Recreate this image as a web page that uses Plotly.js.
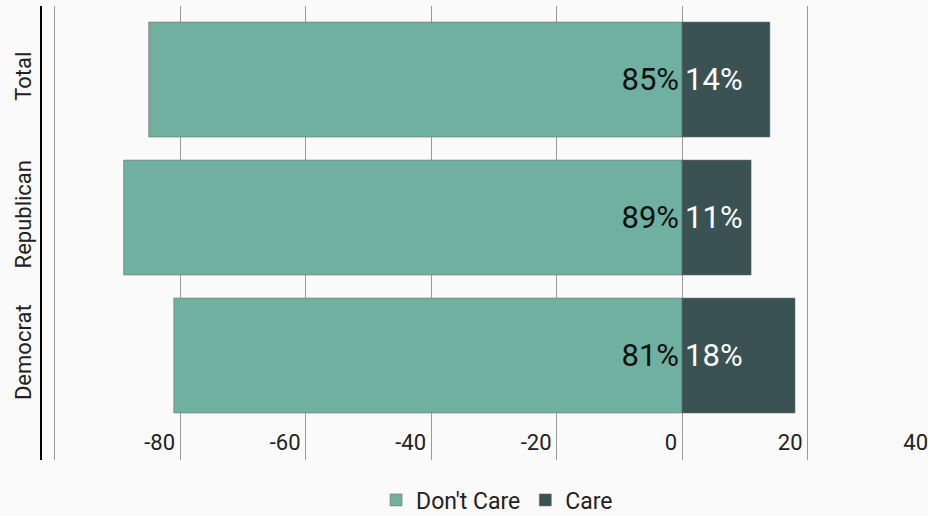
<!DOCTYPE html>
<html>
<head>
<meta charset="utf-8">
<script src="https://cdn.plot.ly/plotly-3.0.1.min.js"></script>
<style>
html, body { margin: 0; padding: 0; overflow: hidden; background: #fafafa; width: 928px; height: 516px; }
#chart { width: 940px; height: 516px; }
</style>
</head>
<body>
<div id="chart"></div>
<script>
var categories = ["Total", "Republican", "Democrat"];
var dontCare = [-85, -89, -81];
var care = [14, 11, 18];
var dontCareLabels = ["85%", "89%", "81%"];
var careLabels = ["14%", "11%", "18%"];
var xTicks = [-100, -80, -60, -40, -20, 0, 20, 40];
var xTickLabels = ["", "-80", "-60", "-40", "-20", "0", "20", "40"];

var font = "Roboto, 'Open Sans', sans-serif";

var traces = [
  {
    type: "bar", orientation: "h", name: "Don't Care",
    y: categories, x: dontCare, text: dontCareLabels,
    textposition: "inside", insidetextanchor: "start",
    textfont: { family: font, size: 31, color: "#111111" },
    marker: { color: "#6fb0a0", line: { color: "rgba(110,110,110,0.55)", width: 1 } },
    width: 0.833, hoverinfo: "skip"
  },
  {
    type: "bar", orientation: "h", name: "Care",
    y: categories, x: care, text: careLabels,
    textposition: "inside", insidetextanchor: "start",
    textfont: { family: font, size: 31, color: "#ffffff" },
    marker: { color: "#3a5253", line: { color: "rgba(110,110,110,0.55)", width: 1 } },
    width: 0.833, hoverinfo: "skip"
  }
];

var layout = {
  width: 940, height: 516,
  margin: { l: 42, r: 4, t: 6, b: 56, autoexpand: false },
  paper_bgcolor: "#fafafa",
  plot_bgcolor: "rgba(0,0,0,0)",
  barmode: "relative",
  font: { family: font, size: 22, color: "#222222" },
  xaxis: {
    range: [-102, 40.47],
    tickvals: xTicks,
    ticktext: xTickLabels,
    ticklabelposition: "inside left",
    ticklabelshift: -5,
    showgrid: true, gridcolor: "#9a9a9a", gridwidth: 1,
    zeroline: false, showline: false, ticks: "",
    tickfont: { family: font, size: 22, color: "#222222" },
    automargin: false,
    fixedrange: true
  },
  yaxis: {
    type: "category",
    categoryorder: "array", categoryarray: categories,
    range: [2.757, -0.533],
    tickangle: -90,
    showline: true, linecolor: "#000000", linewidth: 2.5,
    showgrid: false, zeroline: false, ticks: "",
    tickfont: { family: font, size: 22, color: "#222222" },
    automargin: false,
    fixedrange: true
  },
  showlegend: true,
  legend: {
    orientation: "h", x: 0.509, xanchor: "center", y: -0.088, yanchor: "middle",
    font: { family: font, size: 23, color: "#222222" },
    bgcolor: "rgba(0,0,0,0)", itemclick: false, itemdoubleclick: false
  }
};

Plotly.newPlot("chart", traces, layout, { displayModeBar: false, staticPlot: true });
</script>
</body>
</html>
